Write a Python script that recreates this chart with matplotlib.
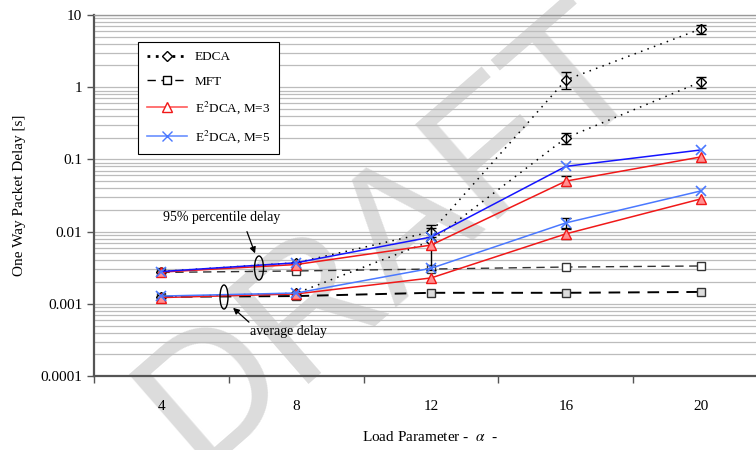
import matplotlib
matplotlib.use("Agg")
import matplotlib.pyplot as plt
import numpy as np
from matplotlib.patches import Ellipse

# load parameter categories
alpha_labels = ["4", "8", "12", "16", "20"]

# 95% percentile delay [s]
edca_95 = [0.0028, 0.0037, 0.0099, 1.26, 6.4]
mft_95 = [0.00272, 0.00285, 0.00303, 0.00323, 0.00334]
e2dca3_95 = [0.00275, 0.0035, 0.0065, 0.050, 0.108]
e2dca5_95 = [0.0028, 0.0037, 0.0084, 0.080, 0.135]

# average delay [s]
edca_avg = [0.00125, 0.0014, 0.0074, 0.198, 1.18]
mft_avg = [0.00125, 0.00128, 0.00142, 0.00142, 0.00146]
e2dca3_avg = [0.00122, 0.00137, 0.00228, 0.0093, 0.0283]
e2dca5_avg = [0.00128, 0.00141, 0.0031, 0.0132, 0.0365]

# error bar ranges (low, high), None = no visible bar
edca_95_err = [None, None, (0.0085, 0.0125), (0.95, 1.6), (5.46, 7.3)]
edca_avg_err = [None, None, (0.00294, 0.0112), (0.164, 0.23), (0.97, 1.38)]
e2dca3_95_err = [None, None, None, (0.043, 0.058), None]
e2dca3_avg_err = [None, None, None, (0.0078, 0.0110), None]
e2dca5_avg_err = [None, None, None, (0.0112, 0.0155), None]

x = np.arange(len(alpha_labels))

plt.rcParams["font.family"] = ["Liberation Serif", "DejaVu Serif"]
plt.rcParams["mathtext.fontset"] = "stix"
fig = plt.figure(figsize=(7.56, 4.5), dpi=100)
ax = fig.add_axes([94 / 756, 1 - 376 / 450, (768 - 94) / 756, (376 - 15) / 450])

ax.set_yscale("log")
ax.set_ylim(0.0001, 10)
ax.set_xlim(-0.5, 4.5)

# grid (axis stays at default zorder so tick labels sit above the watermark)
ax.yaxis.grid(True, which="both", color="#bcbcbc", lw=0.9)

# watermark
ax.text(392 / 756, 1 - 236 / 450, "DRAFT", transform=fig.transFigure,
        fontsize=130, family="Liberation Sans", color="#dcdcdc",
        rotation=41, ha="center", va="center", zorder=1, clip_on=False)


def draw_err(vals, errs):
    for xi, v, e in zip(x, vals, errs):
        if e is None:
            continue
        ax.errorbar([xi], [v], yerr=[[v - e[0]], [e[1] - v]], fmt="none",
                    ecolor="black", elinewidth=1.0, capsize=3.5, zorder=4)


draw_err(edca_95, edca_95_err)
draw_err(edca_avg, edca_avg_err)
draw_err(e2dca3_95, e2dca3_95_err)
draw_err(e2dca3_avg, e2dca3_avg_err)
draw_err(e2dca5_avg, e2dca5_avg_err)

red = "#f01818"
blue_dark = "#1414ff"
blue_light = "#4a78ff"

# MFT
ax.plot(x, mft_95, ls=(0, (6, 4)), color="#333333", lw=1.0, marker="s",
        ms=6, mfc="white", mec="#333333", zorder=3)
ax.plot(x, mft_avg, ls=(0, (6, 4)), color="black", lw=1.4, marker="s",
        ms=6, mfc="#dddddd", mec="#333333", zorder=3)
# EDCA
ax.plot(x, edca_95, ls=(0, (1, 3.5)), color="black", lw=1.1, marker="D",
        ms=5, mfc="white", mec="black", zorder=3)
ax.plot(x, edca_avg, ls=(0, (1, 3.5)), color="black", lw=1.1, marker="D",
        ms=5, mfc="white", mec="black", zorder=3)
# E2DCA
ax.plot(x, e2dca3_95, color=red, lw=1.1, marker="^", ms=7, mfc="#ff9090",
        mec=red, zorder=5)
ax.plot(x, e2dca3_avg, color=red, lw=1.1, marker="^", ms=7, mfc="#ff9090",
        mec=red, zorder=5)
ax.plot(x, e2dca5_95, color=blue_dark, lw=1.1, marker="x", ms=7, mec=blue_light,
        mew=1.2, zorder=6)
ax.plot(x, e2dca5_avg, color=blue_light, lw=1.1, marker="x", ms=7, mec=blue_light,
        mew=1.2, zorder=6)

# legend proxies
h_edca, = ax.plot([], [], ls=(0, (1, 2)), color="black", lw=2, marker="D",
                  ms=5, mfc="white", mec="black")
h_mft, = ax.plot([], [], ls=(0, (6, 4)), color="black", lw=1, marker="s",
                 ms=6, mfc="white", mec="black")
h_e3, = ax.plot([], [], color="#ff5a5a", lw=1.2, marker="^", ms=7,
                mfc="white", mec=red)
h_e5, = ax.plot([], [], color="#6a90ff", lw=1.2, marker="x", ms=7,
                mec=blue_light)
leg = ax.legend([h_edca, h_mft, h_e3, h_e5],
                ["EDCA", "MFT", "E$^{2}$DCA, M=3", "E$^{2}$DCA, M=5"],
                loc="upper left", bbox_to_anchor=(138 / 756, 1 - 42 / 450),
                bbox_transform=fig.transFigure, fontsize=9.5, frameon=True,
                fancybox=False, edgecolor="black", framealpha=1,
                handlelength=3.0, handletextpad=0.6, labelspacing=0.9,
                borderpad=0.7, borderaxespad=0)
leg.get_frame().set_linewidth(0.8)
leg.set_zorder(10)

# annotations
ax.add_patch(Ellipse((259 / 756, 1 - 268 / 450), 9 / 756, 24 / 450,
                     transform=fig.transFigure, fill=False, ec="black",
                     lw=1.0, zorder=7, clip_on=False))
ax.add_patch(Ellipse((224 / 756, 1 - 297 / 450), 8 / 756, 24 / 450,
                     transform=fig.transFigure, fill=False, ec="black",
                     lw=1.0, zorder=7, clip_on=False))
ax.annotate("", xy=(256 / 756, 1 - 256 / 450), xytext=(246 / 756, 1 - 229 / 450),
            xycoords="figure fraction", textcoords="figure fraction",
            arrowprops=dict(arrowstyle="-|>", color="black", lw=0.9,
                            mutation_scale=9), zorder=7)
ax.annotate("", xy=(231 / 756, 1 - 306 / 450), xytext=(251 / 756, 1 - 324 / 450),
            xycoords="figure fraction", textcoords="figure fraction",
            arrowprops=dict(arrowstyle="-|>", color="black", lw=0.9,
                            mutation_scale=9), zorder=7)
fig.text(222 / 756, 1 - 217 / 450, "95% percentile delay", fontsize=10,
         ha="center", va="center")
fig.text(250 / 756, 1 - 332 / 450, "average delay", fontsize=10,
         ha="left", va="center")

# axes styling
ax.set_yticks([0.0001, 0.001, 0.01, 0.1, 1, 10])
ax.set_yticklabels(["0.0001", "0.001", "0.01", "0.1", "1", "10"], fontsize=11)
ax.yaxis.set_minor_formatter(plt.NullFormatter())
ax.tick_params(axis="y", which="minor", length=0)
ax.tick_params(axis="y", which="major", length=5, width=1.0, color="#555555")

ax.set_xticks(np.arange(-0.5, 5.0, 1.0))
ax.set_xticklabels([])
ax.set_xticks(x, minor=True)
ax.set_xticklabels(alpha_labels, minor=True, fontsize=11)
ax.tick_params(axis="x", which="major", length=5, width=1.0, color="#555555")
ax.tick_params(axis="x", which="minor", length=0, pad=17)

for s in ["left", "bottom"]:
    ax.spines[s].set_color("#555555")
    ax.spines[s].set_linewidth(1.6)
ax.spines["top"].set_color("#999999")
ax.spines["top"].set_linewidth(1.0)
ax.spines["right"].set_visible(False)

ax.set_ylabel("One Way Packet Delay [s]", fontsize=11, labelpad=10)
fig.text(430 / 756, 1 - 437 / 450, "Load Parameter -  $\\alpha$  -", fontsize=11,
         ha="center", va="center")

fig.savefig("out.png", dpi=100)
